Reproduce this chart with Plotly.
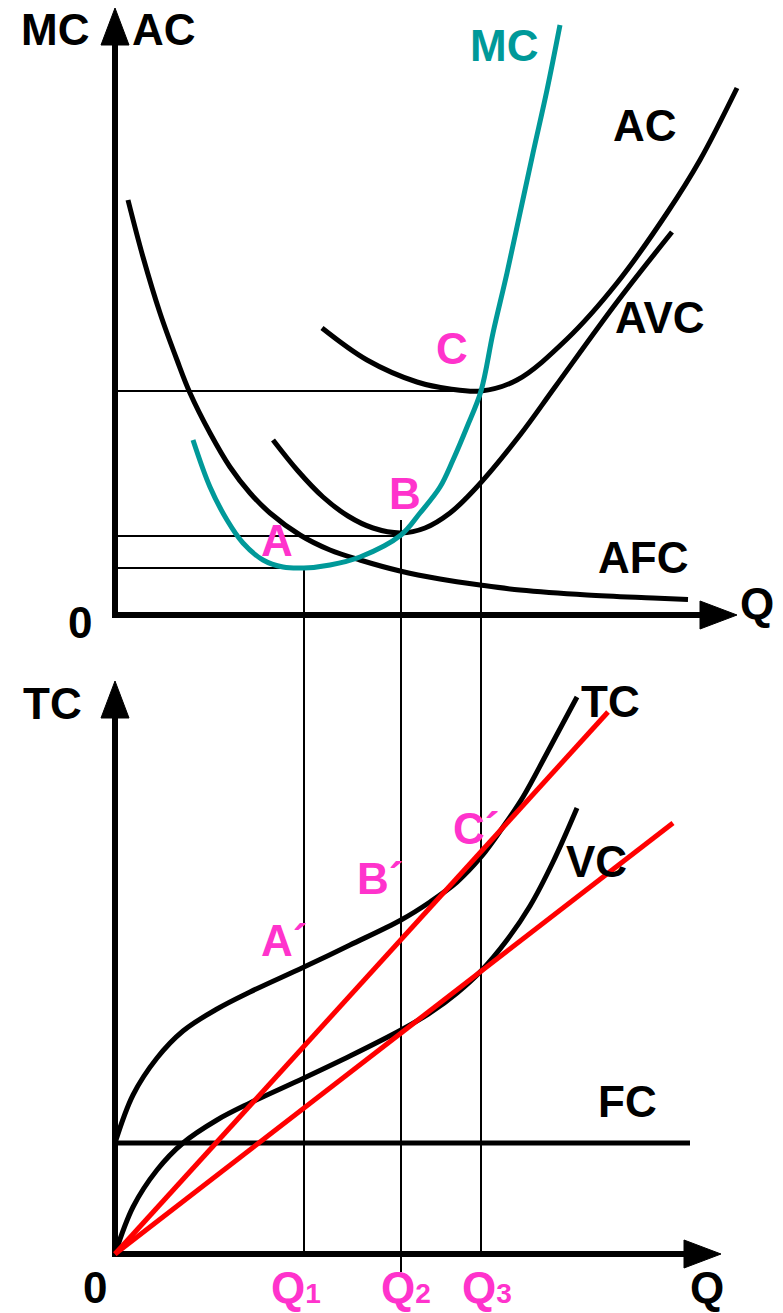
import plotly.graph_objects as go

# ---------------- data (Q units, cost units) ----------------
# Upper panel: unit-cost curves
afc_q = [1.3, 2.8, 4.5, 6.2, 7.5, 9.5, 11.5, 13.5, 15.5, 18.5, 21.5, 24.5, 28.5, 32.5, 36.5, 40.5, 47.2, 53.8, 57.3]
afc_c = [41.5, 35.8, 30.2, 25.5, 22.2, 18.2, 14.8, 12.2, 10.2, 8.0, 6.5, 5.5, 4.4, 3.6, 3.0, 2.5, 2.0, 1.7, 1.55]

mc_q = [7.8, 9.5, 11.2, 12.8, 14.8, 16.8, 18.9, 21.5, 24.5, 28.6, 30.5, 32.5, 33.8, 35.2, 36.6, 37.8, 39.2, 40.5, 41.8, 43.2, 44.5]
mc_c = [17.5, 12.8, 9.5, 7.2, 5.5, 4.8, 4.7, 5.0, 5.8, 8.0, 10.2, 12.8, 15.5, 18.8, 22.4, 28.2, 34.2, 40.2, 46.2, 52.5, 59.0]

ac_q = [20.7, 25.2, 30.2, 33.5, 36.6, 40.2, 45.2, 50.2, 55.2, 58.5, 62.2]
ac_c = [28.7, 25.5, 23.3, 22.6, 22.4, 23.5, 27.6, 33.2, 40.2, 45.5, 52.7]

avc_q = [15.8, 18.3, 20.8, 23.3, 25.8, 28.6, 31.0, 33.5, 36.0, 40.5, 44.0, 50.2, 55.7]
avc_c = [17.5, 14.4, 11.8, 9.9, 8.7, 8.2, 8.7, 10.2, 12.6, 18.0, 22.8, 31.3, 38.3]

# Lower panel: total-cost curves
tc_q = [0, 1.8, 4.2, 6.8, 10.2, 13.5, 18.9, 23.5, 28.6, 31.5, 34.2, 36.6, 38.8, 40.8, 43.2, 46.2]
tc_c = [11.1, 15.9, 19.6, 22.3, 24.5, 26.2, 28.7, 30.9, 33.4, 35.2, 37.2, 39.7, 42.7, 45.7, 50.1, 55.7]

vc_q = [0, 1.8, 4.2, 6.8, 10.2, 13.5, 18.9, 23.5, 28.6, 31.5, 34.2, 36.6, 39.2, 41.5, 43.8, 46.2]
vc_c = [0, 4.7, 8.4, 11.1, 13.4, 15.1, 17.6, 19.8, 22.4, 24.1, 26.1, 28.3, 31.4, 34.8, 39.2, 44.6]

fc_q = [0, 57.5]
fc_c = [11.1, 11.1]

ray1_q = [0, 49.3]
ray1_c = [0, 54.2]
ray2_q = [0, 55.8]
ray2_c = [0, 43.1]

# Key quantities and unit-cost levels (A, B, C)
q_marks = [18.9, 28.6, 36.6]
q_labels = ["Q<span style='font-size:28px'>1</span>",
            "Q<span style='font-size:28px'>2</span>",
            "Q<span style='font-size:28px'>3</span>"]
levels = [4.7, 7.9, 22.4]

# ---------------- styling / layout constants ----------------
BLACK = "#000000"
TEAL = "#009999"
PINK = "#FF33CC"
RED = "#FF0000"
FONT = "Liberation Sans, Arial, sans-serif"

W, H = 783, 1313
split = 657 / 1313
top_range = [-4.1, 61.5]
bot_range = [-5.9, 59.8]
x_range = [-11.5, 66.8]

fig = go.Figure()


def line(q, c, color, width, panel, shape="spline"):
    xa, ya = ("x", "y") if panel == 0 else ("x2", "y2")
    fig.add_trace(go.Scatter(x=q, y=c, mode="lines", xaxis=xa, yaxis=ya,
                             line=dict(color=color, width=width, shape=shape, smoothing=1.0),
                             hoverinfo="skip", showlegend=False))


def tri(xs, ys, panel):
    xa, ya = ("x", "y") if panel == 0 else ("x2", "y2")
    fig.add_trace(go.Scatter(x=xs, y=ys, mode="lines", fill="toself", fillcolor=BLACK,
                             line=dict(color=BLACK, width=1), xaxis=xa, yaxis=ya,
                             hoverinfo="skip", showlegend=False))


# guide lines (thin)
guide_ends_x = [20.5, q_marks[1], q_marks[2]]
for lv, xe in zip(levels, guide_ends_x):
    line([0, xe], [lv, lv], BLACK, 2, 0, "linear")
top_starts = [levels[0], 9.5, levels[2]]
bot_ends = [0, -1.8, 0]
for qm, ts, be in zip(q_marks, top_starts, bot_ends):
    line([qm, qm], [ts, top_range[0]], BLACK, 2, 0, "linear")
    line([qm, qm], [bot_range[1], be], BLACK, 2, 1, "linear")

# axes with arrowheads
AX_W = 6
ARR_L = 3.7
ARR_HW = 1.4
# top
line([0, 0], [-0.3, 57.0], BLACK, AX_W, 0, "linear")
tri([-ARR_HW, ARR_HW, 0, -ARR_HW], [57.0, 57.0, 57.0 + ARR_L, 57.0], 0)
line([-0.3, 58.5], [0, 0], BLACK, AX_W, 0, "linear")
tri([58.5, 58.5, 58.5 + ARR_L, 58.5], [-ARR_HW, ARR_HW, 0, -ARR_HW], 0)
# bottom
line([0, 0], [-0.3, 53.6], BLACK, AX_W, 1, "linear")
tri([-ARR_HW, ARR_HW, 0, -ARR_HW], [53.6, 53.6, 53.6 + ARR_L, 53.6], 1)
line([-0.3, 56.9], [0, 0], BLACK, AX_W, 1, "linear")
tri([56.9, 56.9, 56.9 + ARR_L, 56.9], [-ARR_HW, ARR_HW, 0, -ARR_HW], 1)

# curves - upper panel
line(afc_q, afc_c, BLACK, 5, 0)
line(avc_q, avc_c, BLACK, 5, 0)
line(ac_q, ac_c, BLACK, 5, 0)
line(mc_q, mc_c, TEAL, 5, 0)

# curves - lower panel
line(fc_q, fc_c, BLACK, 5, 1, "linear")
line(vc_q, vc_c, BLACK, 5, 1)
line(tc_q, tc_c, BLACK, 5, 1)
line(ray1_q, ray1_c, RED, 5, 1, "linear")
line(ray2_q, ray2_c, RED, 5, 1, "linear")

# ---------------- text ----------------
def label(text, x, y, color, panel):
    xa, ya = ("x", "y") if panel == 0 else ("x2", "y2")
    fig.add_annotation(text=text, x=x, y=y, xref=xa, yref=ya, showarrow=False,
                       xanchor="center", yanchor="middle",
                       font=dict(family=FONT, size=44, color=color, weight="bold"))

# upper panel
label("MC", -6.0, 58.6, BLACK, 0)
label("AC", 4.9, 58.6, BLACK, 0)
label("MC", 38.9, 57.0, TEAL, 0)
label("AC", 53.0, 49.0, BLACK, 0)
label("AVC", 54.5, 29.8, BLACK, 0)
label("AFC", 52.8, 5.8, BLACK, 0)
label("Q", 64.2, 1.2, BLACK, 0)
label("0", -3.5, -0.7, BLACK, 0)
label("C", 33.7, 26.7, PINK, 0)
label("B", 29.0, 12.2, PINK, 0)
label("A", 16.2, 7.5, PINK, 0)

# lower panel
BOT_Y = -3.3
label("TC", -6.3, 55.1, BLACK, 1)
label("TC", 49.5, 55.3, BLACK, 1)
label("VC", 48.1, 39.3, BLACK, 1)
label("FC", 51.2, 15.3, BLACK, 1)
label("A\u00b4", 16.9, 31.4, PINK, 1)
label("B\u00b4", 26.5, 37.6, PINK, 1)
label("C\u00b4", 36.1, 42.6, PINK, 1)
label("0", -2.0, BOT_Y, BLACK, 1)
for qm, ql, dx in zip(q_marks, q_labels, [-0.8, 0.5, 0.6]):
    label(ql, qm + dx, BOT_Y, PINK, 1)
label("Q", 59.2, BOT_Y, BLACK, 1)

ax_common = dict(visible=False, showgrid=False, zeroline=False, fixedrange=True)
fig.update_layout(
    width=W, height=H,
    margin=dict(l=0, r=0, t=0, b=0),
    paper_bgcolor="white", plot_bgcolor="white",
    showlegend=False,
    xaxis=dict(domain=[0, 1], range=x_range, anchor="y", **ax_common),
    yaxis=dict(domain=[split, 1], range=top_range, anchor="x", **ax_common),
    xaxis2=dict(domain=[0, 1], range=x_range, anchor="y2", **ax_common),
    yaxis2=dict(domain=[0, split], range=bot_range, anchor="x2", **ax_common),
)

fig.write_html("out.html", config={"displayModeBar": False},
               post_script="document.body.style.margin='0px';document.body.style.overflow='hidden';")
